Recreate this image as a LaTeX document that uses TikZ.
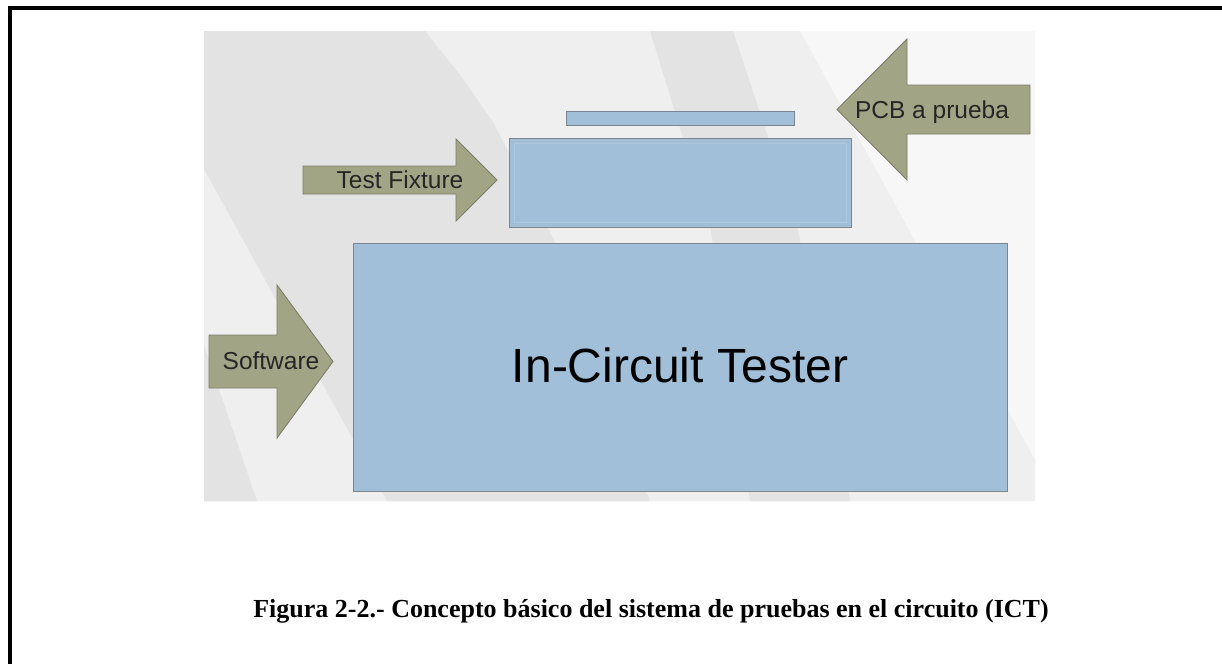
\documentclass[tikz,border=0pt]{standalone}
\usepackage{fontspec}
\setmainfont{Liberation Serif}
\newfontfamily\arialf{Liberation Sans}
\definecolor{boxfill}{HTML}{A2BFD9}
\definecolor{boxline}{HTML}{7E8590}
\definecolor{boxinner}{HTML}{AEC8DE}
\definecolor{arrfill}{HTML}{A2A585}
\definecolor{arrline}{HTML}{7C7E6A}
\definecolor{bgdark}{HTML}{E3E3E3}
\definecolor{bgmid}{HTML}{EFEFEF}
\definecolor{bgwhite}{HTML}{F7F7F7}
\begin{document}
\begin{tikzpicture}[x=1pt,y=-1pt,
  box/.style={draw=boxline, fill=boxfill, line width=1pt, inner sep=0pt, outer sep=0pt, anchor=north west},
  blockarrow/.style={draw=arrline, fill=arrfill, line width=0.9pt, line join=miter},
  lbl/.style={font=\arialf\fontsize{24.5}{28}\selectfont, anchor=base, inner sep=0pt, text=black!85},
  biglbl/.style={font=\arialf\fontsize{48}{54}\selectfont, anchor=base, inner sep=0pt},
  caption/.style={font=\bfseries\fontsize{26}{30}\selectfont, anchor=base, inner sep=0pt},
  frame/.style={line width=4pt, black}]
\useasboundingbox (0,0) rectangle (1222,664);
\fill[white] (0,0) rectangle (1222,664);
% background of the slide
\fill[bgwhite] (204,31) rectangle (1035,501);
\fill[bgmid] (204,31) -- (800,31) -- (1035,460) -- (1035,501) -- (204,501) -- cycle;
\fill[bgdark] (204,31) -- (425,31) -- (460,75) -- (493,122) -- (553,238) -- (600,370) -- (650,501)
   -- (387,501) -- (204,169) -- cycle;
\fill[bgdark] (204,345) -- (257,501) -- (204,501) -- cycle;
\fill[bgdark] (650,31) -- (733,31) -- (797,225) -- (850,501) -- (750,501) -- (710,225) -- cycle;
% boxes
\node[box, minimum width=228pt, minimum height=14pt] (pcb) at (566,111) {};
\node[box, minimum width=342pt, minimum height=89pt] (fixture) at (509,138) {};
\draw[boxinner, line width=0.6pt] ([shift={(5pt,-5pt)}]fixture.north west) rectangle ([shift={(-5pt,5pt)}]fixture.south east);
\node[box, minimum width=654pt, minimum height=248pt] (ict) at (353,243) {};
% block arrows
\path[blockarrow] (303,166) -- (456,166) -- (456,139) -- (497,180) -- (456,221) -- (456,194) -- (303,194) -- cycle;
\path[blockarrow] (1030,85) -- (907,85) -- (907,39) -- (837,109.5) -- (907,180) -- (907,134) -- (1030,134) -- cycle;
\path[blockarrow] (209,335) -- (277,335) -- (277,285) -- (333,361.5) -- (277,438) -- (277,388) -- (209,388) -- cycle;
% labels
\node[lbl] (tflabel) at (400,188) {Test Fixture};
\node[lbl] (pcblabel) at (932,118) {PCB a prueba};
\node[lbl] (swlabel) at (271,369) {Software};
\node[biglbl] (ictlabel) at (680,382) {In-Circuit Tester};
\node[caption] (cap) at (651,617) {Figura 2-2.- Concepto básico del sistema de pruebas en el circuito (ICT)};
% page frame
\draw[frame] (8,8) -- (1222,8);
\draw[frame] (10,6) -- (10,664);
\end{tikzpicture}
\end{document}
